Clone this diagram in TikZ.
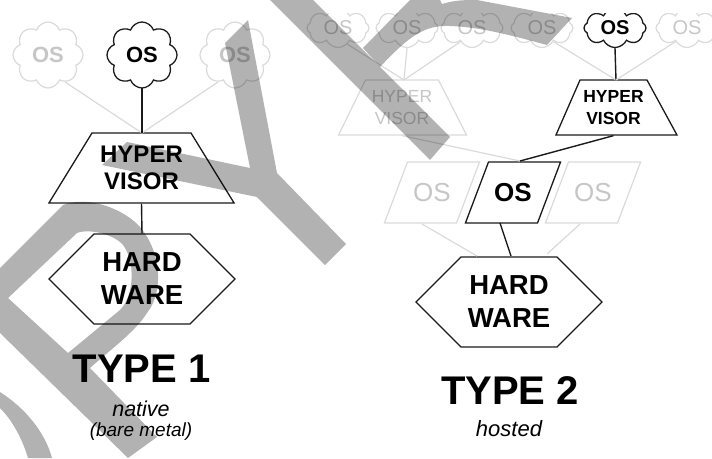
\documentclass[tikz,border=0pt]{standalone}
\usepackage{fontspec}
\setmainfont{Liberation Sans}
\usetikzlibrary{shapes.geometric,shapes.symbols}
\definecolor{faintline}{HTML}{DADADA}
\definecolor{fainttext}{HTML}{C6C6C6}
\definecolor{darkline}{HTML}{1A1A1A}
\newcommand{\fixbox}[3]{\parbox[c][#1pt][c]{#2pt}{\centering #3}}
\tikzset{
  x=1pt,y=-1pt,
  on/.style={draw=darkline,text=black,line width=1.3pt},
  off/.style={draw=faintline,text=fainttext,line width=1.2pt},
  conon/.style={draw=darkline,line width=1.4pt},
  conoff/.style={draw=faintline,line width=1.2pt},
  cloudbig/.style={cloud,cloud puffs=8,cloud puff arc=140,cloud ignores aspect,inner sep=0pt,minimum width=70pt,minimum height=66pt,font=\fontsize{22}{24}\selectfont\bfseries},
  cloudsmall/.style={cloud,cloud puffs=8,cloud puff arc=130,cloud ignores aspect,inner sep=0pt,minimum width=62pt,minimum height=39pt,font=\fontsize{20}{22}\selectfont},
  hvbig/.style={trapezium,trapezium left angle=58.4,trapezium right angle=58.4,inner sep=0pt,font=\fontsize{24}{27}\selectfont\bfseries},
  hvsmall/.style={trapezium,inner sep=0pt,font=\fontsize{17.5}{22}\selectfont},
  hexbox/.style={signal,signal to=east and west,signal pointer angle=90,inner sep=0pt,minimum width=186pt,minimum height=90pt,align=center,font=\fontsize{27.5}{33}\selectfont\bfseries},
  slant/.style={trapezium,trapezium left angle=69.3,trapezium right angle=110.7,inner sep=0pt,font=\fontsize{26}{28}\selectfont},
  heading/.style={font=\fontsize{40}{44}\selectfont\bfseries,inner sep=0pt},
  sublabel/.style={font=\itshape,inner sep=0pt},
  mark wm/.style={fill=black,fill opacity=0.3,draw=none}
}
\begin{document}
\begin{tikzpicture}
\path[use as bounding box] (0,0) rectangle (712,458);
% TYPE 1
\node[cloudbig,off] (c1a) at (48,55) {OS};
\node[cloudbig,on] (c1b) at (142,55) {OS};
\node[cloudbig,off] (c1c) at (235,55) {OS};
\node[hvbig,on] (hv1) at (141.5,168) {\fixbox{70}{99}{HYPER\\VISOR}};
\node[hexbox,on] (hw1) at (142,279) {HARD\\WARE};
\coordinate (hv1t) at (142,133);
\draw[conoff] (c1a.-58) -- (hv1t);
\draw[conoff] (c1c.-122) -- (hv1t);
\draw[conon] (c1b) ++(0,33) -- (hv1t);
\draw[conon] (hv1.south) -- (hw1.north);
\node[heading] (t1) at (141.5,369) {TYPE 1};
\node[sublabel,font=\fontsize{21.5}{24}\selectfont\itshape] (n1) at (141,409) {native};
\node[sublabel,font=\fontsize{19}{22}\selectfont\itshape] (n2) at (141,432) {(bare metal)};
% TYPE 2 clouds (cut at the top)
\begin{scope}
\clip (300,13) rectangle (712,100);
\node[cloudsmall,off] (c2a) at (338,28) {OS};
\node[cloudsmall,off] (c2b) at (407,28) {OS};
\node[cloudsmall,off] (c2c) at (472,28) {OS};
\node[cloudsmall,off] (c2d) at (542,28) {OS};
\node[cloudsmall,on,font=\fontsize{20}{22}\selectfont\bfseries] (c2e) at (615,28) {OS};
\node[cloudsmall,off] (c2f) at (687,28) {OS};
\end{scope}
\node[hvsmall,off,trapezium left angle=63.9,trapezium right angle=63] (hv2a) at (402,107.5) {\fixbox{55}{73}{HYPER\\VISOR}};
\node[hvsmall,on,trapezium left angle=66.4,trapezium right angle=61.4,font=\fontsize{17.5}{22}\selectfont\bfseries] (hv2b) at (613.5,107.5) {\fixbox{55}{67}{HYPER\\VISOR}};
\node[slant,off] (os2a) at (432,192.5) {\fixbox{61}{49}{OS}};
\node[slant,on,font=\fontsize{26}{28}\selectfont\bfseries] (os2b) at (513,192.5) {\fixbox{61}{49}{OS}};
\node[slant,off] (os2c) at (593,192.5) {\fixbox{61}{49}{OS}};
\node[hexbox,on] (hw2) at (509,302) {HARD\\WARE};
\coordinate (hvat) at (404,80);
\coordinate (hvbt) at (616,80);
\coordinate (osbt) at (520,161);
\coordinate (osbb) at (500,223);
\coordinate (hw2a) at (477,256);
\coordinate (hw2c) at (547,254);
\coordinate (os2al) at (422,224);
\coordinate (os2cl) at (580,224);
\coordinate (hw2t) at (511,256);
\draw[conoff] (c2a.-60) -- (hvat);
\draw[conoff] (c2b.south) -- (hvat);
\draw[conoff] (c2c.-130) -- (hvat);
\draw[conoff] (c2d.-50) -- (hvbt);
\draw[conon] (c2e.south) -- (hvbt);
\draw[conoff] (c2f.-130) -- (hvbt);
\draw[conoff] (hv2a.south) -- (osbt);
\draw[conon] (hv2b.south) -- (osbt);
\draw[conoff] (os2al) -- (hw2a);
\draw[conoff] (os2cl) -- (hw2c);
\draw[conon] (osbb) -- (hw2t);
\node[heading] (t2) at (510,391) {TYPE 2};
\node[sublabel,font=\fontsize{22}{24}\selectfont\itshape] (n3) at (509,429) {hosted};
% watermark bands
\fill[mark wm] (248,20) -- (277,173) -- (346,244) -- (325,265) -- (257,197) -- (102,165) -- (127,142) -- (250,168) -- (225,43) -- cycle;
\fill[mark wm] (270,0) -- (313,0) -- (450,137) -- (430,160) -- cycle;
\fill[mark wm] (363,48) -- (410,0) -- (440,0) -- (442,4) .. controls (455,0) and (465,0) .. (477,0) -- (572,18) -- (547,45) .. controls (510,35) and (480,27) .. (450,26) .. controls (425,25) and (410,35) .. (380,67) -- cycle;
\fill[mark wm,even odd rule] (0,268) -- (63,205) .. controls (90,195) and (125,210) .. (140,227) .. controls (160,250) and (165,290) .. (147,313) .. controls (135,332) and (110,350) .. (90,368) -- (157,437) -- (128,458) -- (0,333) -- cycle
  (8,298) -- (77,233) .. controls (90,228) and (115,235) .. (123,245) .. controls (135,260) and (135,295) .. (120,310) -- (68,353) -- cycle;
\fill[mark wm] (0,392) .. controls (25,408) and (45,432) .. (52,458) -- (28,458) .. controls (22,438) and (12,420) .. (0,408) -- cycle;
\end{tikzpicture}
\end{document}
